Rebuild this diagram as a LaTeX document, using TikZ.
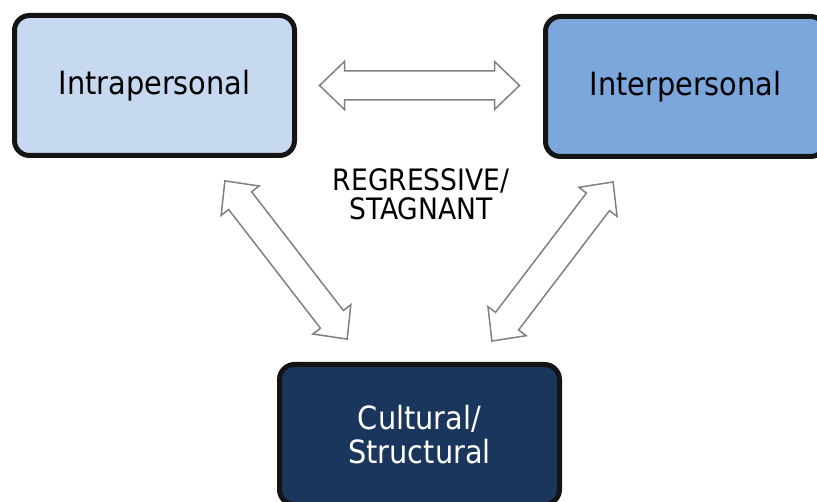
\documentclass[tikz,border=0pt]{standalone}
\usepackage{fontspec}
\setmainfont{DejaVu Sans Condensed}
\definecolor{paleblue}{HTML}{C6D9F1}
\definecolor{midblue}{HTML}{7BA7DD}
\definecolor{navyblue}{HTML}{1A365D}
\definecolor{arrowgray}{HTML}{808080}
\definecolor{edgeblack}{HTML}{141414}
\tikzset{
  box/.style={draw=edgeblack, line width=5pt, rounded corners=15pt,
    minimum width=280pt, minimum height=140pt, inner sep=0pt,
    font=\fontsize{32}{34}\selectfont, align=center},
  blockarrow/.style={draw=arrowgray, line width=1.5pt, fill=white, line join=miter},
}
\begin{document}
\begin{tikzpicture}[x=1pt, y=-1pt]
  \useasboundingbox (0,0) rectangle (817,502);
  \clip (0,0) rectangle (817,502);

  % the three levels
  \node[box, fill=paleblue] (intra) at (154.5,85.5) {Intrapersonal};
  \node[box, fill=midblue] (inter) at (685.5,86.5) {Interpersonal};
  \node[box, fill=navyblue, text=white] (cult) at (419.5,434.5) {Cultural/\\Structural};

  % centre label
  \node[font=\fontsize{29.5}{29}\selectfont, align=center] (label) at (421,194) {REGRESSIVE/\\STAGNANT};

  % two-headed block arrows between the levels
  \coordinate (hmid) at (419.5,85.5);
  \coordinate (lmid) at (286,260);
  \coordinate (rmid) at (552.5,261.5);
  \foreach \c/\a in {hmid/0, lmid/-52.3, rmid/52.7}{
    \draw[blockarrow, shift={(\c)}, rotate=\a]
      (-100,0) -- (-75,24) -- (-75,14.5) -- (75,14.5) -- (75,24) -- (100,0)
      -- (75,-24) -- (75,-14.5) -- (-75,-14.5) -- (-75,-24) -- cycle;
  }
\end{tikzpicture}
\end{document}
